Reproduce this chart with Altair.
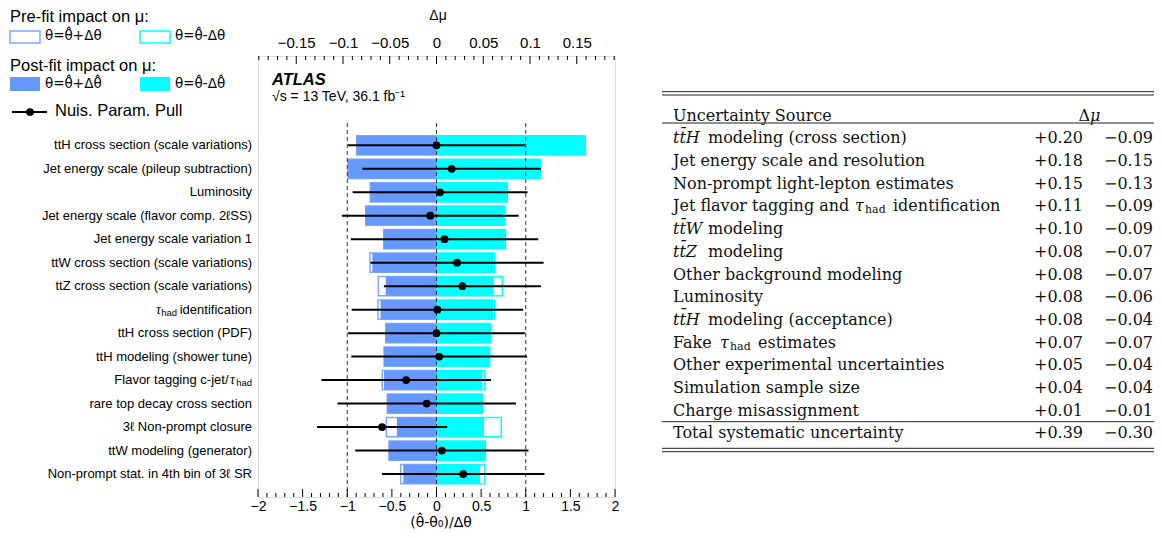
import altair as alt
import pandas as pd

# ---------------- data ----------------
params = [
    "ttH cross section (scale variations)",
    "Jet energy scale (pileup subtraction)",
    "Luminosity",
    "Jet energy scale (flavor comp. 2\u2113SS)",
    "Jet energy scale variation 1",
    "ttW cross section (scale variations)",
    "ttZ cross section (scale variations)",
    "\u03c4had identification",
    "ttH cross section (PDF)",
    "ttH modeling (shower tune)",
    "Flavor tagging c-jet/\u03c4had",
    "rare top decay cross section",
    "3\u2113 Non-prompt closure",
    "ttW modeling (generator)",
    "Non-prompt stat. in 4th bin of 3\u2113 SR",
]
# impact on mu (Delta mu), post-fit
post_plus = [-0.0853, -0.0947, -0.0703, -0.0757, -0.0565, -0.0686, -0.0543, -0.0597,
             -0.0543, -0.0560, -0.0561, -0.0526, -0.0424, -0.0508, -0.0355]
post_minus = [0.159, 0.111, 0.0757, 0.0729, 0.0736, 0.0607, 0.0607, 0.0604,
              0.0580, 0.0568, 0.0490, 0.0494, 0.0508, 0.0522, 0.0465]
# impact on mu, pre-fit
pre_plus = [-0.0853, -0.0947, -0.0710, -0.0757, -0.0565, -0.0711, -0.0622, -0.0626,
            -0.0543, -0.0560, -0.0580, -0.0526, -0.0537, -0.0508, -0.0383]
pre_minus = [0.159, 0.111, 0.0757, 0.0729, 0.0736, 0.0622, 0.0704, 0.0622,
             0.0580, 0.0568, 0.0516, 0.0494, 0.0693, 0.0522, 0.0516]
# nuisance parameter pulls
pulls = [0.00, 0.17, 0.04, -0.07, 0.09, 0.23, 0.29, 0.01, 0.00, 0.03, -0.34, -0.11, -0.61, 0.06, 0.30]
pull_err = [0.99, 1.00, 0.98, 0.99, 1.05, 0.97, 0.88, 0.96, 0.99, 0.985, 0.95, 1.00, 0.73, 0.97, 0.91]

pull_ticks = [-2, -1.5, -1, -0.5, 0, 0.5, 1, 1.5, 2]
dmu_ticks = [-0.15, -0.1, -0.05, 0, 0.05, 0.1, 0.15]

table_sources = [
    "tt\u0304H modeling (cross section)",
    "Jet energy scale and resolution",
    "Non-prompt light-lepton estimates",
    "Jet flavor tagging and \u03c4had identification",
    "tt\u0304W modeling",
    "tt\u0304Z modeling",
    "Other background modeling",
    "Luminosity",
    "tt\u0304H modeling (acceptance)",
    "Fake \u03c4had estimates",
    "Other experimental uncertainties",
    "Simulation sample size",
    "Charge misassignment",
]
table_up = [0.20, 0.18, 0.15, 0.11, 0.10, 0.08, 0.08, 0.08, 0.08, 0.07, 0.05, 0.04, 0.01]
table_down = [-0.09, -0.15, -0.13, -0.09, -0.09, -0.07, -0.07, -0.06, -0.04, -0.07, -0.04, -0.04, -0.01]
total_up, total_down = 0.39, -0.30

# ---------------- layout ----------------
W, H = 357, 441
HALF = 0.41
pull_scale = alt.Scale(domain=[-2, 2], nice=False, zero=False)
dmu_scale = alt.Scale(domain=[-0.1909, 0.1909], nice=False, zero=False)
row_scale = alt.Scale(domain=[-3.803, 14.979], nice=False, zero=False, reverse=True)
tab_scale = alt.Scale(domain=[-2.626, 16.80], nice=False, zero=False, reverse=True)

BLUE = "#6699FF"
BLUE_LINE = "#80A8FF"
CYAN = "#00FFFF"
SANS = "Liberation Sans"
SERIF = "DejaVu Serif"
MATH = "DejaVu Sans"

n = len(params)
df = pd.DataFrame({
    "pos": list(range(n)), "label": params,
    "post_plus": post_plus, "post_minus": post_minus,
    "pre_plus": pre_plus, "pre_minus": pre_minus,
    "pull": pulls, "err": pull_err,
})
df["y0"] = df["pos"] - HALF
df["y1"] = df["pos"] + HALF
df["zero"] = 0.0
df["plo"] = df["pull"] - df["err"]
df["phi"] = df["pull"] + df["err"]

ONE = pd.DataFrame({"k": [0]})
Y = lambda f: alt.Y(f, scale=row_scale, axis=None)


def txt(s, x, y, **kw):
    kw.setdefault("font", SANS)
    kw.setdefault("baseline", "middle")
    kw.setdefault("align", "left")
    kw.setdefault("color", "black")
    return alt.Chart(ONE).mark_text(text=s, **kw).encode(x=alt.value(x), y=alt.value(y))


def box(x0, x1, y0, y1, fill=None, stroke=None):
    if fill:
        m = alt.Chart(ONE).mark_rect(color=fill)
    else:
        m = alt.Chart(ONE).mark_rect(fill="white", fillOpacity=0, stroke=stroke, strokeWidth=1.5)
    return m.encode(x=alt.value(x0), x2=alt.value(x1), y=alt.value(y0), y2=alt.value(y1))


def bars(col, color, filled, axis=None):
    if filled:
        m = alt.Chart(df).mark_rect(color=color)
    else:
        m = alt.Chart(df).mark_rect(fill="white", fillOpacity=0, stroke=color, strokeWidth=1.5)
    return m.encode(
        x=alt.X(f"{col}:Q", scale=dmu_scale, axis=axis), x2="zero:Q",
        y=Y("y0:Q"), y2="y1:Q")


top_axis = alt.Axis(orient="top", values=dmu_ticks, format="~g", ticks=False, domain=False,
                    grid=False, labelFlush=False, labelPadding=6, labelFontSize=15,
                    labelFont=SANS, labelColor="black", title=None)
bottom_axis = alt.Axis(orient="bottom", values=pull_ticks, format="~g", ticks=False, domain=False,
                       grid=False, labelFlush=False, labelPadding=2, labelFontSize=14,
                       labelFont=SANS, labelColor="black", title=None)

layers = []
# impact bars
layers += [
    bars("pre_plus", BLUE_LINE, False),
    bars("pre_minus", CYAN, False),
    bars("post_plus", BLUE, True, top_axis),
    bars("post_minus", CYAN, True),
]

# dashed guide lines
dash_df = pd.DataFrame({"v": [-1, 0, 1], "top": -0.95, "bot": 14.979})
layers.append(alt.Chart(dash_df).mark_rule(color="#333", strokeWidth=1, strokeDash=[4, 3]).encode(
    x=alt.X("v:Q", scale=pull_scale, axis=None), y=Y("top:Q"), y2="bot:Q"))

# pulls
layers.append(alt.Chart(df).mark_rule(color="black", strokeWidth=2).encode(
    x=alt.X("plo:Q", scale=pull_scale, axis=bottom_axis), x2="phi:Q", y=Y("pos:Q")))
layers.append(alt.Chart(df).mark_circle(color="black", size=60, opacity=1).encode(
    x=alt.X("pull:Q", scale=pull_scale, axis=None), y=Y("pos:Q")))

# inward ticks
pull_minor = [round(-2 + 0.1 * k, 2) for k in range(41) if k % 5]
dmu_minor = [round(-0.19 + 0.01 * k, 2) for k in range(39) if round(-0.19 + 0.01 * k, 2) not in dmu_ticks]
for vals, sc, y0, y1 in [
    (pull_ticks, pull_scale, H, H - 8), (pull_minor, pull_scale, H, H - 4),
    (dmu_ticks, dmu_scale, 0, 8), (dmu_minor, dmu_scale, 0, 4),
]:
    layers.append(alt.Chart(pd.DataFrame({"v": vals})).mark_rule(color="black", strokeWidth=1).encode(
        x=alt.X("v:Q", scale=sc, axis=None), y=alt.value(y0), y2=alt.value(y1)))

# parameter labels (left)
plain = df[~df["label"].str.contains("\u03c4had")]
layers.append(alt.Chart(plain).mark_text(align="right", baseline="middle", font=SANS, fontSize=13,
                                         color="black").encode(
    x=alt.value(-6), y=Y("pos:Q"), text="label:N"))
tau_rows = {lab: i for i, lab in enumerate(params) if "\u03c4had" in lab}
for lab, i in tau_rows.items():
    before, after = lab.split("\u03c4had")
    sub = df[df["pos"] == i]
    if after.strip():
        pieces = [(after.strip(), -6, {}), ("had", -81, {"fontSize": 9.5, "dy": 3}),
                  ("\u03c4", -97, {"font": "Liberation Serif", "fontStyle": "italic", "fontSize": 14})]
    else:
        pieces = [("had", -6, {"fontSize": 9.5, "dy": 3}),
                  ("\u03c4", -23, {"font": "Liberation Serif", "fontStyle": "italic", "fontSize": 14}),
                  (before, -29.5, {})]
    for s, x, kw in pieces:
        kw = dict(kw)
        kw.setdefault("font", SANS)
        kw.setdefault("fontSize", 13)
        layers.append(alt.Chart(sub).mark_text(text=s, align="right", baseline="middle", color="black",
                                               **kw).encode(x=alt.value(x), y=Y("pos:Q")))

# texts in / around the frame
layers += [
    txt("ATLAS", 14, 24, fontSize=16.5, fontWeight="bold", fontStyle="italic"),
    txt("\u221as = 13 TeV, 36.1 fb\u207b\u00b9", 14, 41, fontSize=14),
    txt("\u0394\u03bc", 180, -40, fontSize=14, align="center"),
    txt("(\u03b8\u0302-\u03b8\u2080)/\u0394\u03b8", 183, 467, fontSize=14, align="center",
        font="DejaVu Sans"),
]

# legend (top-left)
layers += [
    txt("Pre-fit impact on \u03bc:", -248, -39, fontSize=16.5),
    box(-248, -218, -25, -13, stroke=BLUE_LINE),
    box(-118, -88, -25, -13, stroke=CYAN),
    txt("\u03b8=\u03b8\u0302+\u0394\u03b8", -213, -20, fontSize=13.5, font=MATH),
    txt("\u03b8=\u03b8\u0302-\u0394\u03b8", -83, -20, fontSize=13.5, font=MATH),
    txt("Post-fit impact on \u03bc:", -248, 10, fontSize=16.5),
    box(-248, -218, 21, 35, fill=BLUE),
    box(-118, -88, 21, 35, fill=CYAN),
    txt("\u03b8=\u03b8\u0302+\u0394\u03b8\u0302", -213, 28, fontSize=13.5, font=MATH),
    txt("\u03b8=\u03b8\u0302-\u0394\u03b8\u0302", -83, 28, fontSize=13.5, font=MATH),
    alt.Chart(ONE).mark_rule(color="black", strokeWidth=2).encode(
        x=alt.value(-246), x2=alt.value(-211), y=alt.value(56)),
    alt.Chart(ONE).mark_circle(color="black", size=60, opacity=1).encode(
        x=alt.value(-228), y=alt.value(56)),
    txt("Nuis. Param. Pull", -203, 55, fontSize=16.5),
]

# ---------------- table (right) ----------------
TX0, TXP, TXM = 415, 825, 895
tab = pd.DataFrame({
    "trow": list(range(1, len(table_sources) + 1)) + [len(table_sources) + 1],
    "source": table_sources + ["Total systematic uncertainty"],
    "up": [f"+{v:.2f}" for v in table_up] + [f"+{total_up:.2f}"],
    "down": [f"\u2212{abs(v):.2f}" for v in table_down] + [f"\u2212{abs(total_down):.2f}"],
})
tab["kind"] = ["tt" if s.startswith("tt\u0304") else ("tau" if "\u03c4had" in s else "plain")
               for s in tab["source"]]
tab["prefix"] = [s.split(" ")[0] if k == "tt" else "" for s, k in zip(tab["source"], tab["kind"])]
tab["rest"] = [s.split(" ", 1)[1] if k == "tt" else s for s, k in zip(tab["source"], tab["kind"])]
TY = lambda f: alt.Y(f, scale=tab_scale, axis=None)
tfont = dict(font=SERIF, fontSize=16, color="#111", baseline="middle")

layers.append(alt.Chart(tab[tab["kind"] == "plain"]).mark_text(align="left", **tfont).encode(
    x=alt.value(TX0), y=TY("trow:Q"), text="rest:N"))
tt = tab[tab["kind"] == "tt"]
layers.append(alt.Chart(tt).mark_text(align="left", fontStyle="italic", **tfont).encode(
    x=alt.value(TX0), y=TY("trow:Q"), text="prefix:N"))
layers.append(alt.Chart(tt).mark_text(align="left", **tfont).encode(
    x=alt.value(TX0 + 35), y=TY("trow:Q"), text="rest:N"))
# x of tau, "had", rest (plot-relative px) for the two tau rows
tau_pos = {0: (597, 607, 635), 1: (462, 472, 500)}
for j, (_, r) in enumerate(tab[tab["kind"] == "tau"].iterrows()):
    before, after = r["source"].split("\u03c4had")
    sub = tab[tab["trow"] == r["trow"]]
    xt, xh, xa = tau_pos[j]
    for s, x, kw in [(before.strip(), TX0, {}),
                     ("\u03c4", xt, {"fontStyle": "italic"}),
                     ("had", xh, {"fontSize": 11, "dy": 4}),
                     (after.strip(), xa, {})]:
        f = dict(tfont)
        f.update(kw)
        layers.append(alt.Chart(sub).mark_text(text=s, align="left", **f).encode(
            x=alt.value(x), y=TY("trow:Q")))
layers.append(alt.Chart(tab).mark_text(align="right", **tfont).encode(
    x=alt.value(TXP), y=TY("trow:Q"), text="up:N"))
layers.append(alt.Chart(tab).mark_text(align="right", **tfont).encode(
    x=alt.value(TXM), y=TY("trow:Q"), text="down:N"))
head = pd.DataFrame({"trow": [0]})
layers.append(alt.Chart(head).mark_text(text="Uncertainty Source", align="left", **tfont).encode(
    x=alt.value(TX0), y=TY("trow:Q")))
layers.append(alt.Chart(head).mark_text(text="\u0394", align="right", **tfont).encode(
    x=alt.value(832), y=TY("trow:Q")))
layers.append(alt.Chart(head).mark_text(text="\u03bc", align="left", fontStyle="italic", **tfont).encode(
    x=alt.value(832), y=TY("trow:Q")))
for yv in [35.7, 39.0, 67.0, 365.7, 392.3, 395.7]:
    layers.append(alt.Chart(ONE).mark_rule(color="#222", strokeWidth=1).encode(
        x=alt.value(404), x2=alt.value(896), y=alt.value(yv)))

chart = alt.layer(*layers).resolve_scale(x="independent", y="independent").properties(
    width=W, height=H,
    autosize=alt.AutoSizeParams(type="none"),
    padding={"left": 250, "top": 48, "right": 539, "bottom": 33},
).configure_view(stroke="#222", strokeWidth=1.2).configure(font=SANS, background="white")

chart.save("out.html", embed_options={"renderer": "svg", "actions": False})
